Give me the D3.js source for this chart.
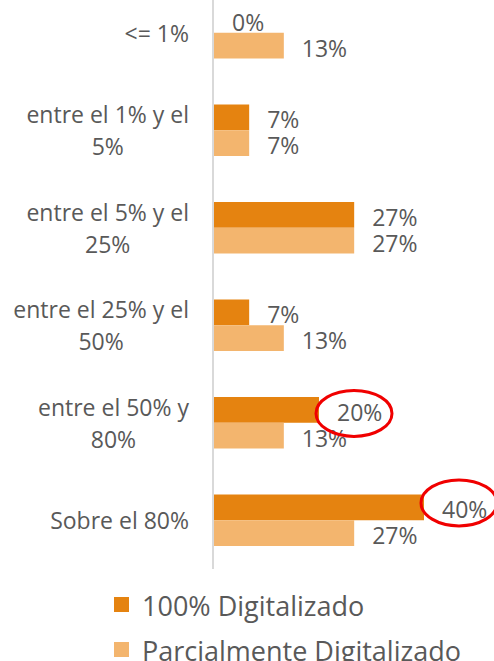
<!DOCTYPE html>
<html>
<head>
<meta charset="utf-8">
<script src="https://cdn.jsdelivr.net/npm/d3@7"></script>
<style>
  body { margin: 0; background: #fff; }
  text { font-family: "Open Sans", "Noto Sans", sans-serif; fill: #595959; }
</style>
</head>
<body>
<div id="chart"></div>
<script>
// categories (top to bottom) and the two series, in percent
var categories = ["<= 1%", "entre el 1% y el 5%", "entre el 5% y el 25%",
                  "entre el 25% y el 50%", "entre el 50% y 80%", "Sobre el 80%"];
var seriesNames = ["100% Digitalizado", "Parcialmente Digitalizado"];
var digitalizado = [0, 6.7, 26.7, 6.7, 20, 40];
var parcial = [13.3, 6.7, 26.7, 13.3, 13.3, 26.7];
var colors = ["#e58310", "#f3b56e"];
// the two circled labels: [category index, series index, vertical nudge]
var circled = [[4, 0, 3.5], [5, 0, -4.5]];

var width = 494, height = 661;

var svg = d3.select("#chart").append("svg")
    .attr("width", width)
    .attr("height", height);

var xScale = d3.scaleLinear().domain([0, 40]).range([214, 424]);
var y0 = d3.scaleBand().domain(categories).range([-16, 569]);
var pair = 51.5;
var y1 = d3.scaleBand().domain(seriesNames)
    .range([(y0.step() - pair) / 2, (y0.step() + pair) / 2]);

var rows = categories.map(function(c, i) {
    return {cat: c, values: [digitalizado[i], parcial[i]]};
});

// axis line
svg.append("line")
    .attr("x1", xScale(0) - 1).attr("x2", xScale(0) - 1)
    .attr("y1", y0.range()[0]).attr("y2", y0.range()[1])
    .style("stroke", "#d9d9d9")
    .style("stroke-width", 2);

// bars
var g = svg.selectAll("g.row").data(rows).enter().append("g")
    .attr("class", "row")
    .attr("transform", function(d) { return "translate(0," + y0(d.cat) + ")"; });

g.selectAll("rect").data(function(d) {
    return d.values.map(function(v, j) { return {v: v, s: seriesNames[j], j: j}; });
}).enter().append("rect")
    .attr("x", xScale(0))
    .attr("y", function(d) { return y1(d.s); })
    .attr("width", function(d) { return xScale(d.v) - xScale(0); })
    .attr("height", y1.bandwidth())
    .style("fill", function(d) { return colors[d.j]; });

// value labels
g.selectAll("text.val").data(function(d) {
    return d.values.map(function(v, j) { return {v: v, s: seriesNames[j], j: j}; });
}).enter().append("text")
    .attr("class", "val")
    .attr("x", function(d) { return xScale(d.v) + 18; })
    .attr("y", function(d) { return y1(d.s) + y1.bandwidth() / 2 + 11; })
    .style("font-size", "23px")
    .text(function(d) { return d3.format(".0f")(d.v) + "%"; });

// category labels, wrapped and centred as a block, right edge at 189
function wrap(str, maxW, measure) {
    var words = str.split(" "), lines = [], cur = "";
    words.forEach(function(w) {
        var t = cur ? cur + " " + w : w;
        if (measure(t) > maxW && cur) { lines.push(cur); cur = w; }
        else cur = t;
    });
    lines.push(cur);
    return lines;
}
var probe = svg.append("text").style("font-size", "23px");
function measure(s) { probe.text(s); return probe.node().getComputedTextLength(); }

rows.forEach(function(d) {
    var lines = wrap(d.cat, 185, measure);
    var maxW = d3.max(lines, measure);
    var cx = 189 - maxW / 2;
    var mid = y0(d.cat) + y0.bandwidth() / 2;
    var lh = 32;
    var first = mid + 9 - (lines.length - 1) * lh / 2;
    var t = svg.append("text")
        .attr("text-anchor", "middle")
        .style("font-size", "23px");
    lines.forEach(function(l, k) {
        t.append("tspan").attr("x", cx).attr("y", first + k * lh).text(l);
    });
});
probe.remove();

// red circles drawn over two labels
circled.forEach(function(c) {
    var cat = categories[c[0]], s = seriesNames[c[1]];
    var v = c[1] === 0 ? digitalizado[c[0]] : parcial[c[0]];
    svg.append("ellipse")
        .attr("cx", xScale(v) + 35)
        .attr("cy", y0(cat) + y1(s) + y1.bandwidth() / 2 + c[2])
        .attr("rx", 38)
        .attr("ry", 23)
        .style("fill", "none")
        .style("stroke", "#f00000")
        .style("stroke-width", 3);
});

// legend
var legend = svg.selectAll("g.legend").data(seriesNames).enter().append("g")
    .attr("class", "legend")
    .attr("transform", function(d, i) { return "translate(114," + (597 + i * 45) + ")"; });
legend.append("rect")
    .attr("width", 15).attr("height", 15)
    .style("fill", function(d, i) { return colors[i]; });
legend.append("text")
    .attr("x", 28).attr("y", 19)
    .style("font-size", "27px")
    .text(function(d) { return d; });
</script>
</body>
</html>
